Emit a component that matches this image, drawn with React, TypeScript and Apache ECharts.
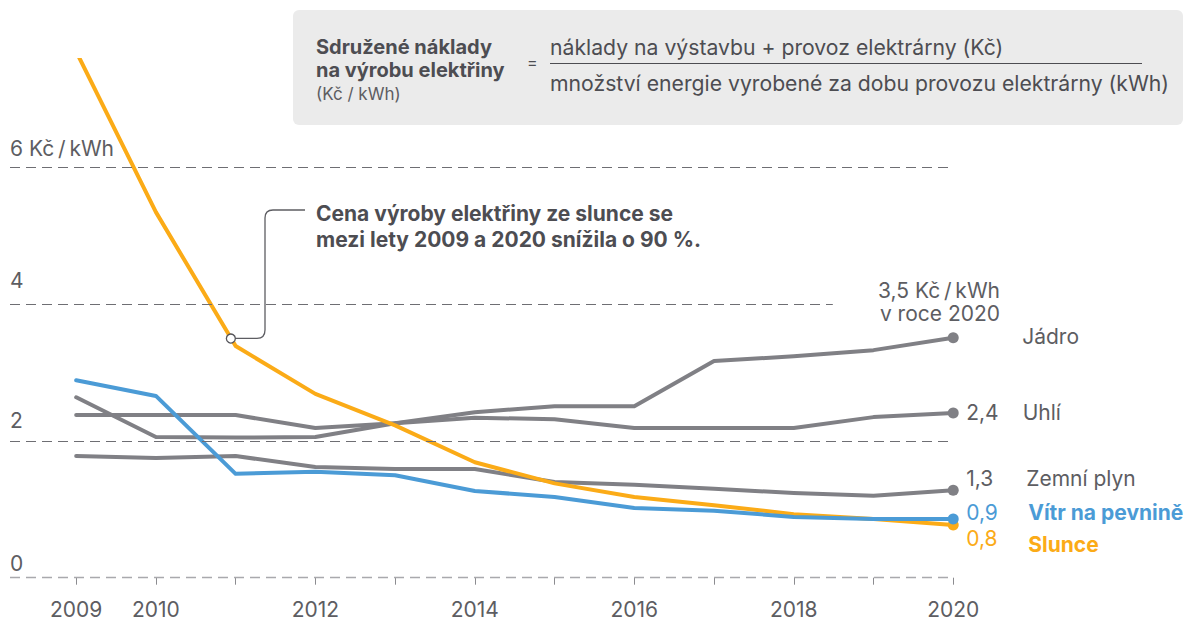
import React, { useEffect, useRef } from 'react';
import * as echarts from 'echarts';

// ---- data (Kč / kWh) ----
const years = [2009, 2010, 2011, 2012, 2013, 2014, 2015, 2016, 2017, 2018, 2019, 2020];
const yearLabels = [2009, 2010, 2012, 2014, 2016, 2018, 2020];
const nuclear = [2.38, 2.38, 2.38, 2.19, 2.26, 2.42, 2.51, 2.51, 3.17, 3.24, 3.33, 3.51];
const coal = [2.64, 2.06, 2.05, 2.06, 2.26, 2.34, 2.32, 2.19, 2.19, 2.19, 2.35, 2.41];
const gas = [1.78, 1.75, 1.78, 1.62, 1.59, 1.59, 1.40, 1.36, 1.30, 1.24, 1.20, 1.28];
const solar = [7.7, 5.35, 3.39, 2.69, 2.23, 1.69, 1.38, 1.18, 1.06, 0.93, 0.86, 0.77];
const wind = [2.89, 2.66, 1.52, 1.55, 1.50, 1.27, 1.18, 1.02, 0.98, 0.89, 0.86, 0.86];
const seriesNames = ['Jádro', 'Uhlí', 'Zemní plyn', 'Vítr na pevnině', 'Slunce'];
const yTickValues = [0, 2, 4, 6];
const unit = 'Kč\u2009/\u2009kWh';

const FONT = 'Inter, "Noto Sans", sans-serif';
const FS = 21;
const TXT = '#5d5d62';
const DARK = '#4d4d52';
const GRAY = '#808085';
const BLUE = '#4b9bd6';
const ORANGE = '#fbab17';

const fmt = (v: number) => v.toFixed(1).replace('.', ',');

echarts.graphic.registerShape(
  'connector',
  echarts.graphic.extendPath('M235.5 338.3 H257 Q265 338.3 265 330 V218 Q265 210 273 210 H305', {})
);

function makeSeries(name: string, values: number[], color: string, z: number, label: any) {
  const last = values.length - 1;
  return {
    type: 'line',
    name,
    z,
    silent: true,
    clip: true,
    symbol: 'none',
    lineStyle: { width: 4, color, cap: 'round', join: 'round' },
    itemStyle: { color },
    data: values.map((v, i) =>
      i === last
        ? { value: [years[i], v], symbol: 'circle', symbolSize: 11, label }
        : [years[i], v]
    ),
  };
}

function endLabel(
  color: string,
  nameText: string,
  withValue: boolean,
  valueWidth: number,
  offset: number[],
  bold: boolean,
  namePadTop: number
) {
  return {
    show: true,
    position: 'right',
    distance: 0,
    offset,
    formatter: (p: any) =>
      withValue ? `{v|${fmt(p.value[1])}}{n|${nameText}}` : `{n|${nameText}}`,
    rich: {
      v: { width: valueWidth, fontSize: FS, fontFamily: FONT, color },
      n: {
        fontSize: FS,
        fontFamily: FONT,
        color,
        fontWeight: bold ? 'bold' : 'normal',
        padding: [namePadTop, 0, 0, 0],
      },
    },
  };
}

export default function App() {
  const ref = useRef<HTMLDivElement>(null);

  useEffect(() => {
    const chart = echarts.init(ref.current!, null, { renderer: 'svg' });

    const gridLineX0 = 2008.17;
    const gridLines = yTickValues.map((v) => [
      { coord: [gridLineX0, v] },
      { coord: [v === 4 ? 2018.49 : 2019.935, v] },
    ]);

    const yRich: any = {};
    const yPads: Record<number, number> = { 0: 4, 2: 10.5, 4: 13, 6: 9 };
    yTickValues.forEach((v) => {
      yRich['y' + v] = {
        fontSize: FS,
        fontFamily: FONT,
        color: TXT,
        padding: [0, 0, yPads[v], 0],
      };
    });

    const option: any = {
      animation: false,
      grid: { left: 10, right: 228, top: 60, bottom: 43.3, containLabel: false },
      xAxis: {
        type: 'value',
        min: 2008.17,
        max: 2020.06,
        offset: 6,
        axisLine: { show: false },
        splitLine: { show: false },
        axisTick: {
          show: true,
          length: 7,
          customValues: years,
          lineStyle: { color: '#8c8c90', width: 1 },
        },
        axisLabel: {
          customValues: yearLabels,
          margin: 15,
          fontSize: FS,
          fontFamily: FONT,
          color: TXT,
          formatter: (v: number) => String(v),
        },
      },
      yAxis: {
        type: 'value',
        min: 0,
        max: 7.576,
        interval: 2,
        axisLine: { show: false },
        axisTick: { show: false },
        splitLine: { show: false },
        axisLabel: {
          inside: true,
          margin: 0,
          align: 'left',
          verticalAlign: 'bottom',
          showMaxLabel: false,
          formatter: (v: number) =>
            yTickValues.includes(v) ? `{y${v}|${v === 6 ? '6 ' + unit : v}}` : '',
          rich: yRich,
        },
      },
      series: [
        {
          type: 'line',
          name: 'grid',
          z: 1,
          silent: true,
          data: [],
          markLine: {
            silent: true,
            symbol: ['none', 'none'],
            label: { show: false },
            lineStyle: { type: [10, 6], color: '#6e6e73', width: 1 },
            data: gridLines.map((pair, i) =>
              yTickValues[i] === 0
                ? [{ ...pair[0], lineStyle: { color: '#a9a9ad', width: 1.3, type: [10, 6] } }, pair[1]]
                : pair
            ),
          },
        },
        makeSeries(seriesNames[0], nuclear, GRAY, 2,
          endLabel(TXT, seriesNames[0], false, 0, [63.5, -1], false, 0)),
        makeSeries(seriesNames[1], coal, GRAY, 2,
          endLabel(TXT, seriesNames[1], true, 56.5, [7.5, -0.5], false, 0)),
        makeSeries(seriesNames[2], gas, GRAY, 2,
          endLabel(TXT, seriesNames[2], true, 60, [7.5, -12], false, 0)),
        {
          ...makeSeries(seriesNames[4], solar, ORANGE, 3,
            endLabel(ORANGE, seriesNames[4], true, 62, [7.5, 13], true, 12)),
          markPoint: {
            silent: true,
            symbol: 'circle',
            symbolSize: 9,
            label: { show: false },
            itemStyle: { color: '#ffffff', borderColor: '#55555a', borderWidth: 1.3 },
            data: [{ coord: [2010.94, 3.5] }],
          },
        },
        makeSeries(seriesNames[3], wind, BLUE, 4,
          endLabel(BLUE, seriesNames[3], true, 62, [7.5, -6.5], true, 0)),
      ],
      graphic: [
        {
          type: 'rect',
          silent: true,
          shape: { x: 293, y: 10, width: 890, height: 115, r: 6 },
          style: { fill: '#ebebeb' },
          z: 0,
        },
        {
          type: 'text', x: 316, y: 47, silent: true,
          style: { text: 'Sdružené náklady', font: `bold 20px ${FONT}`, fill: DARK, verticalAlign: 'middle' },
        },
        {
          type: 'text', x: 316, y: 70, silent: true,
          style: { text: 'na výrobu elektřiny', font: `bold 20px ${FONT}`, fill: DARK, verticalAlign: 'middle' },
        },
        {
          type: 'text', x: 316, y: 94, silent: true,
          style: { text: '(Kč / kWh)', font: `17px ${FONT}`, fill: TXT, verticalAlign: 'middle' },
        },
        {
          type: 'text', x: 527, y: 62, silent: true,
          style: { text: '=', font: `16px ${FONT}`, fill: DARK, verticalAlign: 'middle' },
        },
        {
          type: 'text', x: 550, y: 47, silent: true,
          style: { text: 'náklady na výstavbu + provoz elektrárny (Kč)', font: `21.2px ${FONT}`, fill: DARK, verticalAlign: 'middle' },
        },
        {
          type: 'line', silent: true,
          shape: { x1: 550, y1: 63.5, x2: 1142, y2: 63.5 },
          style: { stroke: DARK, lineWidth: 1 },
        },
        {
          type: 'text', x: 550, y: 82.5, silent: true,
          style: { text: 'množství energie vyrobené za dobu provozu elektrárny (kWh)', font: `21.2px ${FONT}`, fill: DARK, verticalAlign: 'middle' },
        },
        {
          type: 'connector', x: 0, y: 0, silent: true,
          style: { stroke: '#5d5d62', lineWidth: 1.3, fill: 'none' },
          z: 5,
        },
        {
          type: 'text', x: 316, y: 213, silent: true,
          style: { text: 'Cena výroby elektřiny ze slunce se', font: `bold 21px ${FONT}`, fill: DARK, verticalAlign: 'middle' },
        },
        {
          type: 'text', x: 316, y: 239.5, silent: true,
          style: { text: 'mezi lety 2009 a 2020 snížila o 90 %.', font: `bold 21px ${FONT}`, fill: DARK, verticalAlign: 'middle' },
        },
        {
          type: 'text', x: 1000, y: 290, silent: true,
          style: { text: '3,5 ' + unit, font: `${FS}px ${FONT}`, fill: TXT, align: 'right', verticalAlign: 'middle' },
        },
        {
          type: 'text', x: 1000, y: 313, silent: true,
          style: { text: 'v roce 2020', font: `${FS}px ${FONT}`, fill: TXT, align: 'right', verticalAlign: 'middle' },
        },
      ],
    };

    chart.setOption(option);
    return () => chart.dispose();
  }, []);

  return (
    <div
      ref={ref}
      style={{ position: 'absolute', left: 0, top: 0, width: 1186, height: 621, background: '#fff' }}
    />
  );
}
